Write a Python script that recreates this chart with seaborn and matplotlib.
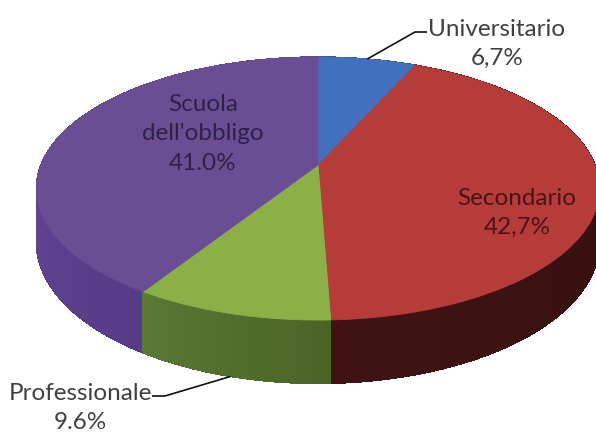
import numpy as np
import matplotlib
matplotlib.use("Agg")
import matplotlib.pyplot as plt
from matplotlib.collections import PolyCollection
from matplotlib.colors import to_rgb
import seaborn as sns

# Educational attainment shares
categories = ["Universitario", "Secondario", "Professionale", "Scuola dell'obbligo"]
shares = [6.7, 42.7, 9.6, 41.0]
share_labels = ["6,7%", "42,7%", "9.6%", "41.0%"]

# Styling: top-face colours and (light, dark) colours of each slice's rim
top_colors = ["#4170BE", "#B63C3A", "#8BB047", "#6A4E94"]
side_colors = [("#2D4F88", "#2D4F88"), ("#5B1D1D", "#361010"),
               ("#5A7934", "#4A6425"), ("#614695", "#563C86")]
label_colors = ["#404040", "#4A1414", "#404040", "#2E2148"]

sns.set_theme(style="white")
plt.rcParams["font.family"] = ["Lato", "DejaVu Sans"]

fig = plt.figure(figsize=(5.96, 4.34), dpi=100)
ax = fig.add_axes([0, 0, 1, 1])
ax.set_xlim(0, 596)
ax.set_ylim(434, 0)
ax.axis("off")

# Tilted disc seen in perspective (screen units, y pointing down)
CX, CY = 318, 165
RX, RY = 277, 127.3
PERSP = 0.179
DEPTH = 52


def project(theta_deg, drop=0.0):
    t = np.radians(theta_deg)
    u, v = np.cos(t), np.sin(t)
    s = 1.0 / (1.0 + PERSP * v)
    return CX + RX * u * s, CY - RY * v * s + drop * s


total = float(sum(shares))
starts, ends = [], []
a = 90.0
for val in shares:
    starts.append(a)
    a -= 360.0 * val / total
    ends.append(a)

# Rim: a smooth base band per slice, then shaded strips painted far-to-near
for i, (a0, a1) in enumerate(zip(starts, ends)):
    th = np.linspace(a0, a1, 300)
    fr = np.sin(np.radians(th)) < 0.05
    if not fr.any():
        continue
    th = th[fr]
    tx, ty = project(th)
    bx, by = project(th[::-1], DEPTH)
    base = (np.array(to_rgb(side_colors[i][0])) + np.array(to_rgb(side_colors[i][1]))) / 2
    ax.fill(np.concatenate([tx, bx]), np.concatenate([ty, by]),
            facecolor=base, edgecolor=base, linewidth=0.5)

strips, strip_cols, depth_key = [], [], []
for i, (a0, a1) in enumerate(zip(starts, ends)):
    th = np.arange(a0, a1, -0.5)
    th = np.append(th, a1)
    mids = (th[:-1] + th[1:]) / 2
    front = np.sin(np.radians(mids)) < 0.05
    if front.any():
        tvals = np.mod(mids, 360.0)
        lo, hi = tvals[front].min(), tvals[front].max()
    else:
        lo, hi = 0.0, 1.0
    c0 = np.array(to_rgb(side_colors[i][0]))
    c1 = np.array(to_rgb(side_colors[i][1]))
    for k in range(len(th) - 1):
        p0, p1 = project(th[k]), project(th[k + 1])
        q1, q0 = project(th[k + 1], DEPTH), project(th[k], DEPTH)
        strips.append([p0, p1, q1, q0])
        f = 0.0 if hi == lo else np.clip((np.mod(mids[k], 360.0) - lo) / (hi - lo), 0, 1)
        strip_cols.append(tuple(c0 + (c1 - c0) * f))
        depth_key.append(np.sin(np.radians(mids[k])))

order = np.argsort(depth_key)[::-1]
rim = PolyCollection([strips[j] for j in order],
                     facecolors=[strip_cols[j] for j in order],
                     edgecolors=[strip_cols[j] for j in order],
                     linewidths=0.4, antialiased=False)
ax.add_collection(rim)

# Top faces
for i, (a0, a1) in enumerate(zip(starts, ends)):
    th = np.linspace(a0, a1, 200)
    xs, ys = project(th)
    px = np.concatenate([[CX], xs])
    py = np.concatenate([[CY], ys])
    ax.fill(px, py, facecolor=top_colors[i], edgecolor=top_colors[i], linewidth=0.6)

FS = 17.5
LS = 1.5
mid = [(s + e) / 2 for s, e in zip(starts, ends)]

# Universitario: callout above the pie
x0, y0 = project(mid[0])
ax.plot([x0, 415, 427], [y0, 32, 32], color="#111111", lw=1.2, solid_capstyle="butt")
ax.text(497, 44, f"{categories[0]}\n{share_labels[0]}", ha="center", va="center",
        fontsize=FS, color=label_colors[0], linespacing=LS)

# Secondario: inside the slice
ax.text(517, 213, f"{categories[1]}\n{share_labels[1]}", ha="center", va="center",
        fontsize=FS, color=label_colors[1], linespacing=LS)

# Professionale: callout below the pie
x2, y2 = project(mid[2], DEPTH)
ax.plot([x2, 165, 152], [y2, 396, 396], color="#111111", lw=1.2, solid_capstyle="butt")
ax.text(80, 408, f"{categories[2]}\n{share_labels[2]}", ha="center", va="center",
        fontsize=FS, color=label_colors[2], linespacing=LS)

# Scuola dell'obbligo: inside the slice
ax.text(203, 134, f"{categories[3].replace(' ', chr(10), 1)}\n{share_labels[3]}",
        ha="center", va="center", fontsize=FS, color=label_colors[3], linespacing=LS)

fig.savefig("out.png", dpi=100, facecolor="white")
